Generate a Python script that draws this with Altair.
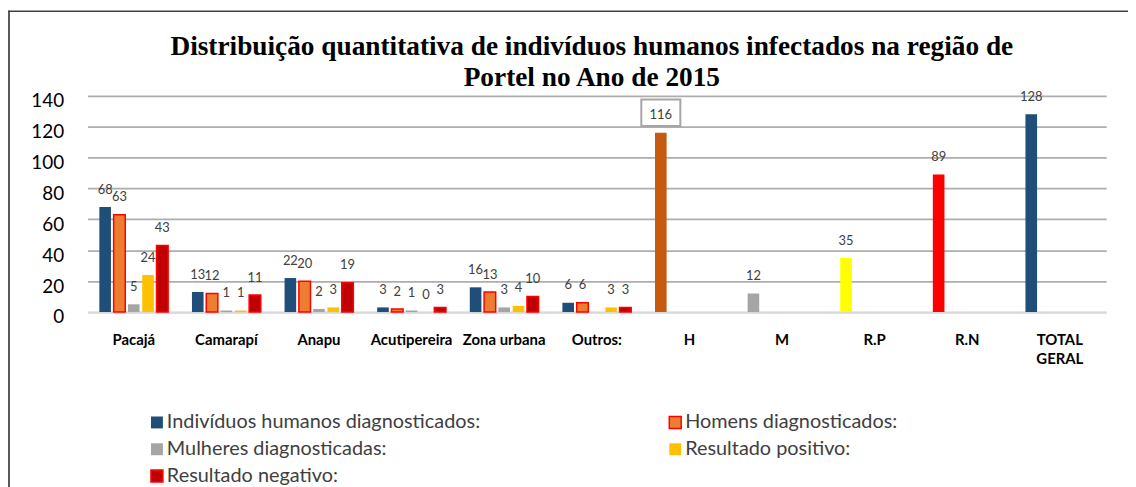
import altair as alt
import pandas as pd

# ---- data ----
categorias = ["Pacajá", "Camarapí", "Anapu", "Acutipereira", "Zona urbana",
              "Outros:", "H", "M", "R.P", "R.N", "TOTAL GERAL"]
locais = ["Pacajá", "Camarapí", "Anapu", "Acutipereira", "Zona urbana", "Outros:"]
series = ["Indivíduos humanos diagnosticados:", "Homens diagnosticados:",
          "Mulheres diagnosticadas:", "Resultado positivo:", "Resultado negativo:"]
individuos = [68, 13, 22, 3, 16, 6]
homens = [63, 12, 20, 2, 13, 6]
mulheres = [5, 1, 2, 1, 3, None]
positivos = [24, 1, 3, 0, 4, 3]
negativos = [43, 11, 19, 3, 10, 3]
totais_cat = ["H", "M", "R.P", "R.N", "TOTAL GERAL"]
totais = [116, 12, 35, 89, 128]

cores_series = ["#1F4E79", "#ED7D31", "#A5A5A5", "#FFC000", "#C00000"]
bordas_series = ["transparent", "#FF0000", "transparent", "transparent", "#FF0000"]
cores_totais = ["#C55A11", "#A5A5A5", "#FFFF00", "#FF0000", "#1F4E79"]

linhas = []
for s, vals in zip(series, [individuos, homens, mulheres, positivos, negativos]):
    for c, v in zip(locais, vals):
        linhas.append({"categoria": c, "serie": s, "chave": s, "valor": v})
for c, v in zip(totais_cat, totais):
    linhas.append({"categoria": c, "serie": series[0], "chave": c, "valor": v})
df = pd.DataFrame(linhas)

dominio_cor = series + totais_cat
faixa_cor = cores_series + cores_totais
faixa_borda = bordas_series + ["transparent"] * len(totais_cat)

leg = alt.Legend(
    title=None, values=series, orient="none", legendX=60, legendY=319,
    direction="horizontal", columns=2, columnPadding=186, rowPadding=7,
    symbolType="square", symbolSize=144, symbolStrokeWidth=1.5,
    labelFont="Lato", labelFontSize=20, labelColor="#404040", labelOffset=0,
    labelLimit=400,
)

x_enc = alt.X(
    "categoria:N", sort=categorias,
    scale=alt.Scale(paddingInner=0, paddingOuter=0),
    axis=alt.Axis(
        title=None, labelAngle=0, labelFont="Lato", labelFontWeight="bold",
        labelFontSize=15, labelColor="#000000", ticks=False,
        domainColor="#D9D9D9", domainWidth=2, labelPadding=21,
        labelOverlap=False, labelLimit=200, grid=False,
        labelExpr="datum.value == 'TOTAL GERAL' ? ['TOTAL', 'GERAL'] : datum.label",
        labelLineHeight=19,
    ),
)
xo_enc = alt.XOffset("serie:N", sort=series,
                     scale=alt.Scale(domain=series, paddingInner=0.1875, paddingOuter=0.833))
y_enc = alt.Y(
    "valor:Q", scale=alt.Scale(domain=[0, 140], nice=False),
    axis=alt.Axis(
        title=None, values=[0, 20, 40, 60, 80, 100, 120, 140], ticks=False,
        domain=False, labelFont="Lato", labelFontSize=19, labelColor="#000000",
        labelPadding=24, labelOffset=5,
        gridColor=alt.condition("datum.value === 0", alt.value("#D9D9D9"), alt.value("#ADADAD")),
        gridWidth=1.8,
    ),
)

base = alt.Chart(df)

barras = base.mark_bar(strokeWidth=1.5).encode(
    x=x_enc, xOffset=xo_enc, y=y_enc,
    fill=alt.Fill("chave:N", scale=alt.Scale(domain=dominio_cor, range=faixa_cor), legend=leg),
    stroke=alt.Stroke("chave:N", scale=alt.Scale(domain=dominio_cor, range=faixa_borda), legend=leg),
)

caixa = base.transform_filter("datum.categoria === 'H'").mark_point(
    shape="M-1,-0.68L1,-0.68L1,0.68L-1,0.68Z", size=1544, filled=True,
    fill="white", stroke="#A6A6A6", strokeWidth=2, opacity=1, yOffset=-20.3,
).encode(x=x_enc, xOffset=xo_enc, y=y_enc)

rotulos = base.transform_filter("isValid(datum.valor)").mark_text(
    dy=-17.5, baseline="middle", font="Lato", fontSize=13, color="#404040",
).encode(x=x_enc, xOffset=xo_enc, y=y_enc, text=alt.Text("valor:Q"))

um = pd.DataFrame({"k": [0]})
borda_esq = alt.Chart(um).mark_rule(color="#595959", strokeWidth=2).encode(
    x=alt.value(-79), y=alt.value(-85.7), y2=alt.value(400))
borda_topo = alt.Chart(um).mark_rule(color="#404040", strokeWidth=1.5).encode(
    x=alt.value(-80), x2=alt.value(1100), y=alt.value(-85.2))

chart = alt.layer(barras, caixa, rotulos, borda_esq, borda_topo).properties(
    width=1026, height=217.8,
    title=alt.Title(
        ["Distribuição quantitativa de indivíduos humanos infectados na região de",
         "Portel no Ano de 2015"],
        font="Liberation Serif", fontSize=27.5, fontWeight="bold", color="#000000",
        anchor="middle", frame="group", lineHeight=31, offset=7, dx=-5, dy=89,
    ),
    autosize=alt.AutoSizeParams(type="none"),
    padding={"left": 80, "top": 86.7, "right": 22, "bottom": 174},
    background="white",
).configure_view(stroke=None)

chart.save("out.html", embed_options={"renderer": "svg", "actions": False})
